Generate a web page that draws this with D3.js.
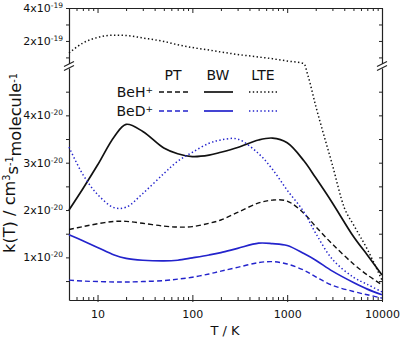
<!DOCTYPE html>
<html><head><meta charset="utf-8">
<script src="https://cdn.jsdelivr.net/npm/d3@7"></script>
<style>
body{margin:0;background:#fff}
svg{display:block}
text{font-family:"DejaVu Sans",sans-serif;fill:#111}
</style>
</head><body>
<svg id="chart" width="400" height="340"></svg>
<script>
// temperatures (K)
const temps = [5,7,10,15,20,30,50,70,100,150,200,300,500,700,1000,1500,2000,3000,5000,7000,10000];
// rate coefficients, units of 1e-20 cm^3 s^-1 molecule^-1
const behPT  = [1.59,1.65,1.71,1.76,1.76,1.72,1.66,1.64,1.65,1.72,1.79,1.95,2.15,2.21,2.19,1.93,1.65,1.28,0.86,0.63,0.42];
const behBW  = [2.00,2.45,2.95,3.55,3.81,3.66,3.31,3.19,3.13,3.16,3.22,3.32,3.48,3.52,3.42,3.04,2.68,2.15,1.44,1.05,0.63];
const bedPT  = [0.52,0.50,0.49,0.48,0.48,0.49,0.51,0.54,0.58,0.65,0.71,0.79,0.89,0.91,0.86,0.73,0.59,0.41,0.28,0.21,0.14];
const bedBW  = [1.48,1.35,1.21,1.05,0.98,0.94,0.925,0.94,0.99,1.05,1.10,1.19,1.30,1.29,1.25,1.08,0.94,0.71,0.47,0.33,0.21];
const bedLTE = [3.33,2.75,2.33,2.05,2.06,2.35,2.77,3.03,3.22,3.41,3.48,3.50,3.19,2.86,2.42,1.96,1.51,0.96,0.58,0.43,0.27];
const behLTET = [5,7,10,15,20,30,50,70,100,150,200,300,500,700,1000,1500,1650,2000,3000,4000,5000,7000,10000];
const behLTE  = [12.7,18.7,22.1,23.5,23.3,21.8,19.7,17.7,16.0,14.5,13.3,11.8,10.25,9.2,7.8,6.3,4.85,4.2,2.95,2.05,1.69,1.17,0.52];

const xMajor = [10,100,1000,10000];
const xTickLabels = ["10","100","1000","10000"];
const yLowTicks = [0.5,1,1.5,2,2.5,3,3.5,4,4.5];
const yLowLabelled = [1,2,3,4];
const yLowLabels = ["1x10","2x10","3x10","4x10"];
const yLowExp = "-20";
const yUpTicks = [10,20,30,40];
const yUpLabelled = [20,40];
const yUpLabels = ["2x10","4x10"];
const yUpExp = "-19";
const headers = ["PT","BW","LTE"];
const species = ["BeH","BeD"];

const L=69,R=382,T=8,B=300, BRK_LO=68, BRK_HI=64;
const svg = d3.select("#chart");
const x = d3.scaleLog().domain([5,10000]).range([L,R]);
const yLow = d3.scaleLinear().domain([0.1,5]).range([B,BRK_LO]);
const yUp = d3.scaleLinear().domain([6,40]).range([BRK_HI,T]);
const y = d3.scaleLinear().domain([0.1,5,6,40]).range([B,BRK_LO,BRK_HI,T]);

const xTicks = [];
for (let d=1; d<=1000; d*=10) for (let k=1;k<10;k++){ const v=k*d; if(v>=5 && v<=10000) xTicks.push(v);} 
xTicks.push(10000);
const isMajor = v => xMajor.includes(v);

const black="#111", blue="#2323cc";

// bottom axis
const gx = svg.append("g").attr("transform",`translate(0,${B})`)
  .call(d3.axisBottom(x).tickValues(xTicks).tickSizeOuter(0).tickSizeInner(0).tickPadding(8)
    .tickFormat(v => isMajor(v) ? xTickLabels[xMajor.indexOf(v)] : ""));
gx.selectAll(".tick line").attr("y2", v => isMajor(v) ? -5 : -3).attr("y1", v=> isMajor(v)?2:0);
gx.selectAll(".tick text").attr("font-size",11).attr("font-family","DejaVu Sans").attr("fill","#111").attr("dy","0.9em");
// top axis
const gt = svg.append("g").attr("transform",`translate(0,${T})`)
  .call(d3.axisTop(x).tickValues(xTicks).tickSizeOuter(0).tickSizeInner(0).tickFormat(""));
gt.selectAll(".tick line").attr("y2", v => isMajor(v) ? 5 : 3);

function styleY(g, labelled, labels, exp){
  g.selectAll(".tick text").each(function(v){
    const t=d3.select(this); t.text(null);
    const i = labelled.indexOf(v);
    if (i<0) return;
    t.attr("font-size",11).attr("font-family","DejaVu Sans").attr("fill","#111");
    t.append("tspan").text(labels[i]);
    t.append("tspan").attr("dy","-0.55em").attr("font-size",7.5).text(exp);
  });
}
// left axes
const gl = svg.append("g").attr("transform",`translate(${L},0)`)
  .call(d3.axisLeft(yLow).tickValues(yLowTicks).tickSizeOuter(0).tickSizeInner(3).tickPadding(3));
styleY(gl, yLowLabelled, yLowLabels, yLowExp);
const gu = svg.append("g").attr("transform",`translate(${L},0)`)
  .call(d3.axisLeft(yUp).tickValues(yUpTicks).tickSizeOuter(0).tickSizeInner(3).tickPadding(3));
styleY(gu, yUpLabelled, yUpLabels, yUpExp);
// right axes
svg.append("g").attr("transform",`translate(${R},0)`)
  .call(d3.axisRight(yLow).tickValues(yLowTicks).tickSizeOuter(0).tickSizeInner(-3).tickFormat(""));
svg.append("g").attr("transform",`translate(${R},0)`)
  .call(d3.axisRight(yUp).tickValues(yUpTicks).tickSizeOuter(0).tickSizeInner(-3).tickFormat(""));
svg.selectAll(".domain").attr("stroke","#222").attr("stroke-width",1.2);
svg.selectAll(".tick line").attr("stroke","#222");

// break marks
[L,R].forEach(cx=>{
  svg.append("rect").attr("x",cx-3).attr("y",BRK_HI).attr("width",6).attr("height",BRK_LO-BRK_HI).attr("fill","#fff");
  [BRK_HI, BRK_LO].forEach(cy=>{
    svg.append("line").attr("x1",cx-5).attr("y1",cy+2.5).attr("x2",cx+5).attr("y2",cy-2.5)
      .attr("stroke","#222").attr("stroke-width",1.1);
  });
});

// curves
const smooth = d3.line().x(d=>x(d[0])).y(d=>y(d[1])).curve(d3.curveCatmullRom.alpha(0.5));
const mono = d3.line().x(d=>x(d[0])).y(d=>y(d[1])).curve(d3.curveMonotoneX);
const styles = {
  PT:{dash:"5,3",w:1.4},
  BW:{dash:null,w:1.7},
  LTE:{dash:"1.4,2.4",w:1.5}
};
const series = [
  {T:temps,v:behPT,c:black,s:"PT",g:smooth},
  {T:temps,v:behBW,c:black,s:"BW",g:smooth},
  {T:behLTET,v:behLTE,c:black,s:"LTE",g:mono},
  {T:temps,v:bedPT,c:blue,s:"PT",g:smooth},
  {T:temps,v:bedBW,c:blue,s:"BW",g:smooth},
  {T:temps,v:bedLTE,c:blue,s:"LTE",g:smooth}
];
const plot = svg.append("g");
series.forEach(sr=>{
  plot.append("path").datum(sr.T.map((t,i)=>[t,sr.v[i]]))
    .attr("d",sr.g).attr("fill","none").attr("stroke",sr.c)
    .attr("stroke-width",styles[sr.s].w)
    .attr("stroke-dasharray",styles[sr.s].dash);
});

// legend
const hx=[173,218,263];
headers.forEach((h,i)=>svg.append("text").attr("x",hx[i]).attr("y",80).attr("text-anchor","middle").attr("font-size",14).text(h));
const rowY=[92,111], cols=[black,blue];
species.forEach((sp,r)=>{
  const t=svg.append("text").attr("x",153).attr("y",rowY[r]+5).attr("text-anchor","end").attr("font-size",14);
  t.append("tspan").text(sp);
  t.append("tspan").attr("dy","-0.5em").attr("font-size",9).text("+");
  headers.forEach((h,i)=>{
    svg.append("line").attr("x1",hx[i]-14).attr("x2",hx[i]+15).attr("y1",rowY[r]).attr("y2",rowY[r])
      .attr("stroke",cols[r]).attr("stroke-width",styles[h].w).attr("stroke-dasharray",styles[h].dash);
  });
});

// axis titles
svg.append("text").attr("x",225).attr("y",335).attr("text-anchor","middle").attr("font-size",13).text("T / K");
const yt = svg.append("text").attr("transform","translate(15,163) rotate(-90)").attr("text-anchor","middle").attr("font-size",16);
yt.append("tspan").text("k(T) / cm");
yt.append("tspan").attr("dy","-0.5em").attr("font-size","0.6em").text("3");
yt.append("tspan").attr("dy","0.5em").text("s");
yt.append("tspan").attr("dy","-0.5em").attr("font-size","0.6em").text("-1");
yt.append("tspan").attr("dy","0.5em").text("molecule");
yt.append("tspan").attr("dy","-0.5em").attr("font-size","0.6em").text("-1");
// fit the title to the span it covers in the reference (about 180 px)
const w0 = yt.node().getBBox().width;
if (w0 > 0) yt.attr("font-size", 16*180/w0);
</script>
</body></html>
